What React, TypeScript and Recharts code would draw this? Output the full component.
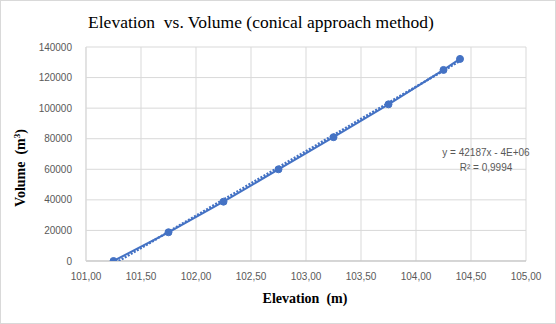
import React from "react";
import { ScatterChart, Scatter, XAxis, YAxis, CartesianGrid } from "recharts";

const elevations = [101.25, 101.75, 102.25, 102.75, 103.25, 103.75, 104.25, 104.4];
const volumes = [0, 18800, 38800, 60000, 81000, 102500, 125000, 132200];
const trendX = [101.27, 104.4];
const trendY = [-1200, 130900];
const xTicks = [101, 101.5, 102, 102.5, 103, 103.5, 104, 104.5, 105];
const yTicks = [0, 20000, 40000, 60000, 80000, 100000, 120000, 140000];

const dataPts = elevations.map((x, i) => ({ x, y: volumes[i] }));
const trendPts = trendX.map((x, i) => ({ x, y: trendY[i] }));

const BLUE = "#4472C4";
const TICK_FONT = "'Liberation Sans', Arial, sans-serif";
const SERIF = "'Liberation Serif', 'Times New Roman', serif";

const fmtX = (v: number) => v.toFixed(2).replace(".", ",");

export default function App() {
  return (
    <div style={{ position: "absolute", left: 0, top: 0, width: 556, height: 324, background: "#fff" }}>
      <ScatterChart width={556} height={324} margin={{ top: 47, right: 30, bottom: 0, left: 30 }}>
        <CartesianGrid stroke="#D9D9D9" strokeWidth={1} />
        <XAxis
          type="number"
          dataKey="x"
          domain={[101, 105]}
          ticks={xTicks}
          tickFormatter={fmtX}
          tickLine={false}
          axisLine={{ stroke: "#BFBFBF" }}
          height={63}
          tick={{ fill: "#595959", fontSize: 10, fontFamily: TICK_FONT }}
          tickMargin={6}
          allowDataOverflow
        />
        <YAxis
          type="number"
          dataKey="y"
          domain={[0, 140000]}
          ticks={yTicks}
          tickLine={false}
          axisLine={{ stroke: "#D9D9D9" }}
          width={56}
          tick={{ fill: "#595959", fontSize: 10, fontFamily: TICK_FONT }}
          tickMargin={8}
          allowDataOverflow
        />
        <Scatter
          data={trendPts}
          isAnimationActive={false}
          line={{ stroke: BLUE, strokeWidth: 2.5, strokeDasharray: "2 1.5" }}
          shape={() => <g />}
          fill={BLUE}
        />
        <Scatter
          data={dataPts}
          isAnimationActive={false}
          line={{ stroke: BLUE, strokeWidth: 2 }}
          fill={BLUE}
          shape={(p: any) => <circle cx={p.cx} cy={p.cy} r={3.5} fill={BLUE} stroke={BLUE} />}
        />
      </ScatterChart>
      <svg width={556} height={324} style={{ position: "absolute", left: 0, top: 0, pointerEvents: "none", whiteSpace: "pre" }}>
        <rect x={0.5} y={0.5} width={555} height={323} fill="none" stroke="#D9D9D9" />
        <text x={261} y={28} textAnchor="middle" fontFamily={SERIF} fontSize={17.5} fill="#000" xmlSpace="preserve">
          {"Elevation  vs. Volume (conical approach method)"}
        </text>
        <text x={305} y={303} textAnchor="middle" fontFamily={SERIF} fontSize={14} fontWeight="bold" fill="#000" xmlSpace="preserve">
          {"Elevation  (m)"}
        </text>
        <text
          transform="translate(25,168) rotate(-90)"
          textAnchor="middle"
          fontFamily={SERIF}
          fontSize={14}
          fontWeight="bold"
          fill="#000"
          xmlSpace="preserve"
        >
          {"Volume  (m"}<tspan dy={-5} fontSize={9}>3</tspan><tspan dy={5}>)</tspan>
        </text>
        <text x={486} y={156} textAnchor="middle" fontFamily={TICK_FONT} fontSize={10} fill="#595959">
          y = 42187x - 4E+06
        </text>
        <text x={486} y={171} textAnchor="middle" fontFamily={TICK_FONT} fontSize={10} fill="#595959">
          R² = 0,9994
        </text>
      </svg>
    </div>
  );
}
